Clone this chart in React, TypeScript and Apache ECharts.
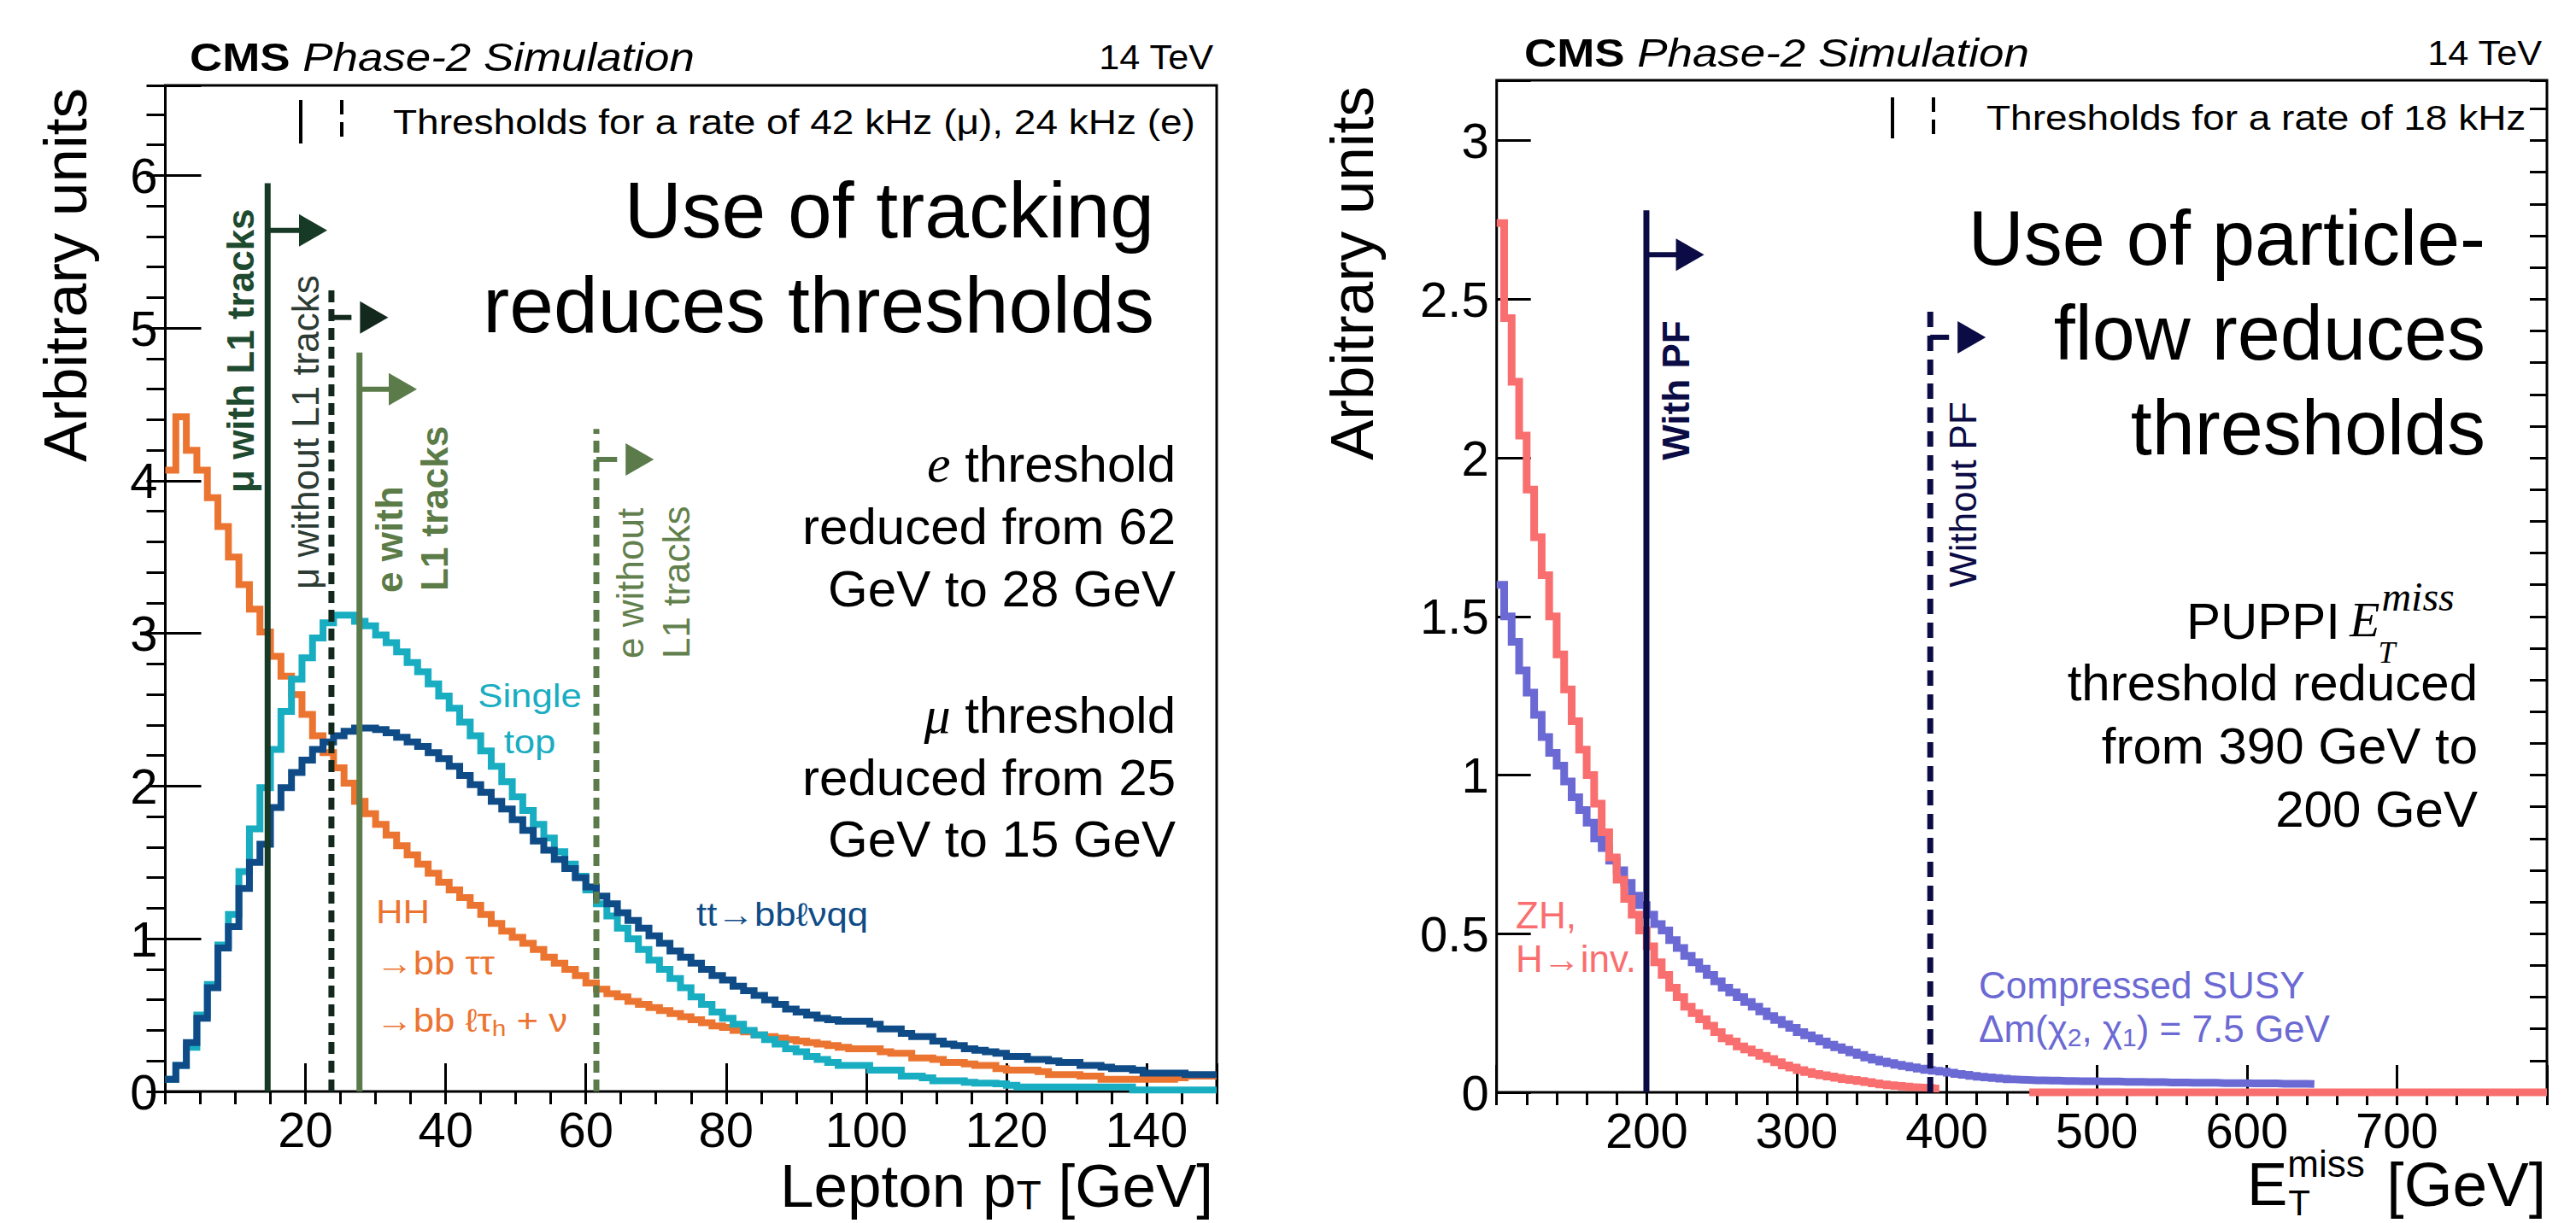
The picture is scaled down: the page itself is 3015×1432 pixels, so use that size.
import React, { useEffect, useRef } from 'react';
import * as echarts from 'echarts';

const W = 3015;
const H = 1432;
const SANS = '"Liberation Sans", Arial, Helvetica, sans-serif';
const SERIF = '"Liberation Serif", "DejaVu Serif", "Times New Roman", serif';

// ---------------- Left panel: lepton pT, 1.5 GeV bins from 0 ----------------
const leptonBinStart = 0;
const leptonBinWidth = 1.5;
const hhToBbTauTau = [
  4.07, 4.42, 4.2, 4.07, 3.89, 3.7, 3.5, 3.32, 3.16, 3.01,
  2.85, 2.72, 2.6, 2.47, 2.33, 2.22, 2.12, 2.02, 1.9, 1.82,
  1.75, 1.68, 1.61, 1.55, 1.49, 1.43, 1.37, 1.32, 1.27, 1.22,
  1.16, 1.1, 1.05, 1.01, 0.97, 0.93, 0.88, 0.84, 0.8, 0.76,
  0.71, 0.67, 0.64, 0.62, 0.59, 0.57, 0.55, 0.53, 0.51, 0.49,
  0.47, 0.45, 0.43, 0.42, 0.4, 0.39, 0.37, 0.36, 0.35, 0.34,
  0.33, 0.32, 0.31, 0.3, 0.29, 0.28, 0.28, 0.28, 0.26, 0.25,
  0.25, 0.22, 0.22, 0.21, 0.19, 0.19, 0.18, 0.17, 0.17, 0.15,
  0.14, 0.14, 0.14, 0.13, 0.11, 0.11, 0.11, 0.1, 0.1, 0.08,
  0.08, 0.08, 0.08, 0.08, 0.08, 0.08, 0.09, 0.1, 0.1, 0.1,
];
const singleTop = [
  0.08, 0.17, 0.29, 0.5, 0.7, 0.96, 1.16, 1.44, 1.72, 1.99,
  2.24, 2.49, 2.7, 2.84, 2.97, 3.07, 3.12, 3.12, 3.08, 3.05,
  2.99, 2.94, 2.88, 2.81, 2.75, 2.67, 2.59, 2.51, 2.42, 2.33,
  2.23, 2.13, 2.03, 1.93, 1.84, 1.75, 1.66, 1.57, 1.49, 1.41,
  1.32, 1.23, 1.15, 1.07, 1.0, 0.93, 0.86, 0.8, 0.74, 0.68,
  0.62, 0.57, 0.52, 0.48, 0.44, 0.4, 0.37, 0.34, 0.31, 0.28,
  0.26, 0.23, 0.21, 0.19, 0.17, 0.17, 0.17, 0.14, 0.14, 0.14,
  0.1, 0.1, 0.09, 0.07, 0.07, 0.07, 0.06, 0.055, 0.055, 0.05,
  0.04, 0.03, 0.03, 0.03, 0.03, 0.03, 0.03, 0.03, 0.03, 0.03,
  0.03, 0.03, 0.01, 0.01, 0.01, 0.01, 0.01, 0.01, 0.01, 0.01,
];
const ttToBbLnuQq = [
  0.08, 0.17, 0.32, 0.48, 0.68, 0.94, 1.08, 1.33, 1.5, 1.62,
  1.86, 1.99, 2.09, 2.17, 2.24, 2.29, 2.33, 2.36, 2.38, 2.38,
  2.37, 2.35, 2.32, 2.29, 2.26, 2.22, 2.18, 2.13, 2.07, 2.01,
  1.96, 1.9, 1.85, 1.78, 1.71, 1.64, 1.58, 1.52, 1.46, 1.4,
  1.34, 1.28, 1.23, 1.17, 1.12, 1.07, 1.02, 0.97, 0.92, 0.88,
  0.84, 0.8, 0.76, 0.73, 0.69, 0.66, 0.63, 0.6, 0.57, 0.54,
  0.52, 0.5, 0.48, 0.47, 0.46, 0.46, 0.46, 0.44, 0.41, 0.41,
  0.38, 0.36, 0.36, 0.33, 0.31, 0.3, 0.28, 0.27, 0.26, 0.25,
  0.23, 0.23, 0.21, 0.21, 0.2, 0.19, 0.19, 0.17, 0.17, 0.16,
  0.15, 0.15, 0.14, 0.12, 0.12, 0.12, 0.12, 0.11, 0.11, 0.11,
];
// thresholds: mu with L1 tracks, mu without, e with, e without
const leptonThresholdPt = [14.6, 23.7, 27.7, 61.5];
const leptonThresholdTop = [5.95, 5.29, 4.84, 4.34];
const leptonArrowLevel = [5.64, 5.07, 4.6, 4.14];
const leptonArrowTip = [23.1, 31.8, 35.9, 69.7];
const leptonThresholdDashed = [0, 1, 0, 1];
const leptonThresholdColors = ['#163A26', '#13291D', '#5B7B4A', '#5B7B4A'];

// ---------------- Right panel: PUPPI MET, 5 GeV bins from 100 ----------------
const metBinStart = 100;
const metBinWidth = 5;
const zhToInvisible = [
  2.74, 2.44, 2.24, 2.07, 1.9, 1.75, 1.63, 1.5, 1.38, 1.27,
  1.17, 1.08, 1.0, 0.91, 0.82, 0.74, 0.67, 0.61, 0.56, 0.51,
  0.46, 0.41, 0.37, 0.33, 0.3, 0.27, 0.25, 0.23, 0.21, 0.19,
  0.17, 0.16, 0.145, 0.135, 0.125, 0.115, 0.105, 0.095, 0.085, 0.078,
  0.07, 0.064, 0.058, 0.054, 0.05, 0.046, 0.042, 0.039, 0.036, 0.032,
  0.028, 0.025, 0.022, 0.02, 0.018, 0.016, 0.015, 0.014, 0.012,
];
const zhToInvisibleZeroTail = [455, 800];
const compressedSusy = [
  1.6, 1.5, 1.42, 1.33, 1.26, 1.19, 1.12, 1.07, 1.03, 0.98,
  0.93, 0.89, 0.85, 0.8, 0.77, 0.73, 0.7, 0.66, 0.62, 0.59,
  0.56, 0.53, 0.51, 0.48, 0.455, 0.43, 0.41, 0.39, 0.37, 0.35,
  0.33, 0.315, 0.3, 0.285, 0.27, 0.255, 0.24, 0.228, 0.215, 0.203,
  0.19, 0.18, 0.17, 0.16, 0.15, 0.142, 0.134, 0.126, 0.118, 0.11,
  0.103, 0.097, 0.092, 0.087, 0.083, 0.079, 0.075, 0.071, 0.068, 0.065,
  0.062, 0.058, 0.055, 0.052, 0.049, 0.047, 0.045, 0.043, 0.041, 0.04,
  0.039, 0.038, 0.038, 0.037, 0.037, 0.036, 0.036, 0.035, 0.035, 0.035,
  0.034, 0.034, 0.034, 0.033, 0.033, 0.033, 0.032, 0.032, 0.032, 0.031,
  0.031, 0.031, 0.03, 0.03, 0.03, 0.03, 0.029, 0.029, 0.029, 0.029,
  0.028, 0.028, 0.028, 0.028, 0.027, 0.027, 0.027, 0.027, 0.026,
];
// thresholds: with PF, without PF
const metThreshold = [199.8, 389];
const metThresholdTop = [2.78, 2.48];
const metArrowLevel = [2.64, 2.38];
const metArrowTip = [238.3, 426];
const metThresholdDashed = [0, 1];
const metThresholdColors = ['#0B0B45', '#0B0B45'];

const COL_HH = '#EC7431';
const COL_ST = '#19ADC2';
const COL_TT = '#0F4C87';
const COL_ZH = '#F96E6E';
const COL_SUSY = '#6B69D3';
const NAVY = '#0B0B45';

function histSteps(start: number, width: number, values: number[]) {
  const pts: number[][] = values.map((v, i) => [start + i * width, v]);
  pts.push([start + values.length * width, values[values.length - 1]]);
  return pts;
}

let measureCtx: CanvasRenderingContext2D | null = null;
function textWidth(text: string, size: number, family = SANS, weight = 'normal', style = 'normal') {
  if (!measureCtx) measureCtx = document.createElement('canvas').getContext('2d');
  measureCtx!.font = `${style} ${weight} ${size}px ${family}`;
  return measureCtx!.measureText(text).width;
}

type TxtOpt = {
  size?: number; color?: string; family?: string; weight?: string; fstyle?: string;
  align?: string; valign?: string; rotation?: number; scaleX?: number; rich?: any;
};
function txt(text: string, x: number, y: number, o: TxtOpt = {}) {
  const align = o.align || 'left';
  const valign = o.valign || 'middle';
  return {
    type: 'text',
    x,
    y,
    rotation: o.rotation || 0,
    scaleX: o.scaleX || 1,
    silent: true,
    z: 10,
    style: {
      text,
      fill: o.color || '#000',
      fontSize: o.size || 40,
      fontFamily: o.family || SANS,
      fontWeight: o.weight || 'normal',
      fontStyle: o.fstyle || 'normal',
      align,
      verticalAlign: valign,
      textAlign: align,
      textVerticalAlign: valign,
      rich: o.rich,
    },
  };
}
function vline(x: number, y1: number, y2: number, dash?: number[]) {
  return {
    type: 'line',
    silent: true,
    shape: { x1: x, y1, x2: x, y2 },
    style: { stroke: '#000', lineWidth: 4, lineDash: dash },
  };
}

function thresholdRenderer(colors: string[], dash: number[], lw: number) {
  return (params: any, api: any) => {
    const x = api.value(0);
    const top = api.value(1);
    const lvl = api.value(2);
    const tip = api.value(3);
    const dashed = api.value(4) === 1;
    const color = colors[api.value(5)];
    const b = api.coord([x, 0]);
    const t = api.coord([x, top]);
    const a = api.coord([x, lvl]);
    const p = api.coord([tip, lvl]);
    const headL = 33;
    const headH = 38;
    const shaftEnd = dashed ? p[0] - headL - 10 : p[0] - headL + 2;
    const lineStyle: any = { stroke: color, lineWidth: lw };
    if (dashed) lineStyle.lineDash = dash;
    return {
      type: 'group',
      children: [
        { type: 'line', shape: { x1: b[0], y1: b[1], x2: t[0], y2: t[1] }, style: lineStyle },
        { type: 'line', shape: { x1: a[0], y1: a[1], x2: shaftEnd, y2: a[1] }, style: { stroke: color, lineWidth: 6 } },
        {
          type: 'polygon',
          shape: { points: [[p[0] - headL, a[1] - headH / 2], [p[0], a[1]], [p[0] - headL, a[1] + headH / 2]] },
          style: { fill: color },
        },
      ],
    };
  };
}

function makeAxes() {
  const tickStyle = { color: '#000', width: 3 };
  const labelStyle = { fontSize: 58, fontFamily: SANS, color: '#000', lineHeight: 58 };
  const xAxis: any[] = [
    {
      gridIndex: 0, type: 'value', min: 0, max: 150, interval: 20,
      axisLine: { show: false }, splitLine: { show: false },
      axisTick: { show: true, inside: true, length: 33, lineStyle: tickStyle },
      axisLabel: { ...labelStyle, margin: 15, formatter: (v: number) => (v > 0 && v < 150 ? String(v) : '') },
    },
    {
      gridIndex: 0, type: 'value', min: 0, max: 150, interval: 5,
      axisLine: { show: false }, splitLine: { show: false }, axisLabel: { show: false },
      axisTick: { show: true, inside: true, length: 15, lineStyle: tickStyle },
    },
    {
      gridIndex: 1, type: 'value', min: 100, max: 800, interval: 100,
      axisLine: { show: false }, splitLine: { show: false },
      axisTick: { show: true, inside: true, length: 32, lineStyle: tickStyle },
      axisLabel: { ...labelStyle, margin: 15, formatter: (v: number) => (v > 100 && v < 800 ? String(v) : '') },
    },
    {
      gridIndex: 1, type: 'value', min: 100, max: 800, interval: 20,
      axisLine: { show: false }, splitLine: { show: false }, axisLabel: { show: false },
      axisTick: { show: true, inside: true, length: 15, lineStyle: tickStyle },
    },
  ];
  const yAxis: any[] = [
    {
      gridIndex: 0, type: 'value', min: 0, max: 6.59, interval: 1,
      axisLine: { show: false }, splitLine: { show: false },
      axisTick: { show: true, inside: true, length: 42, lineStyle: tickStyle },
      axisLabel: { ...labelStyle, margin: 9, formatter: (v: number) => (v > 6.5 ? '' : String(v)) },
    },
    {
      gridIndex: 0, type: 'value', min: 0, max: 6.59, interval: 0.2,
      axisLine: { show: false }, splitLine: { show: false }, axisLabel: { show: false },
      axisTick: { show: true, inside: true, length: 22, lineStyle: tickStyle },
    },
    {
      gridIndex: 1, type: 'value', min: 0, max: 3.19, interval: 0.5,
      axisLine: { show: false }, splitLine: { show: false },
      axisTick: { show: true, inside: true, length: 40, lineStyle: tickStyle },
      axisLabel: { ...labelStyle, margin: 9, formatter: (v: number) => (v > 3.1 ? '' : String(v)) },
    },
    {
      gridIndex: 1, type: 'value', min: 0, max: 3.19, interval: 0.1,
      axisLine: { show: false }, splitLine: { show: false }, axisLabel: { show: false },
      axisTick: { show: true, inside: true, length: 20, lineStyle: tickStyle },
    },
  ];
  return { xAxis, yAxis };
}

function histSeries(name: string, data: number[][], color: string, xi: number, yi: number, width: number) {
  return {
    name,
    type: 'line',
    xAxisIndex: xi,
    yAxisIndex: yi,
    data,
    step: 'end',
    symbol: 'none',
    silent: true,
    clip: false,
    lineStyle: { color, width, join: 'miter', cap: 'butt' },
  };
}

function buildGraphics() {
  const g: any[] = [];
  const titleRich = {
    b: { fontWeight: 'bold', fontSize: 46, fontFamily: SANS },
    i: { fontStyle: 'italic', fontSize: 46, fontFamily: SANS },
  };
  // ---- left panel texts ----
  g.push(txt('{b|CMS} {i|Phase-2 Simulation}', 222, 67, { size: 46, scaleX: 1.15, rich: titleRich }));
  g.push(txt('14 TeV', 1420, 67, { size: 40, align: 'right', scaleX: 1.08 }));
  g.push(vline(352, 117, 168));
  g.push(vline(400, 117, 168, [17, 9]));
  g.push(txt('Thresholds for a rate of 42 kHz (μ), 24 kHz (e)', 460, 143, { size: 40, scaleX: 1.15 }));
  g.push(txt('Use of tracking', 1351, 246, { size: 93, align: 'right' }));
  g.push(txt('reduces thresholds', 1351, 357, { size: 93, align: 'right' }));
  const mathRich = { i: { fontStyle: 'italic', fontFamily: SERIF, fontSize: 62 } };
  g.push(txt('{i|e} threshold', 1376, 543, { size: 60, align: 'right', rich: mathRich }));
  g.push(txt('reduced from 62', 1376, 616, { size: 60, align: 'right' }));
  g.push(txt('GeV to 28 GeV', 1376, 689, { size: 60, align: 'right' }));
  g.push(txt('{i|μ} threshold', 1376, 837, { size: 60, align: 'right', rich: mathRich }));
  g.push(txt('reduced from 25', 1376, 910, { size: 60, align: 'right' }));
  g.push(txt('GeV to 15 GeV', 1376, 982, { size: 60, align: 'right' }));
  // rotated threshold labels
  const R = Math.PI / 2;
  g.push(txt('μ with L1 tracks', 281, 577, { size: 44, weight: 'bold', color: '#1E4A30', rotation: R }));
  g.push(txt('μ without L1 tracks', 357, 690, { size: 44, color: '#2C3B33', rotation: R }));
  g.push(txt('e with', 455, 694, { size: 44, weight: 'bold', color: '#5B7B47', rotation: R }));
  g.push(txt('L1 tracks', 508, 692, { size: 44, weight: 'bold', color: '#5B7B47', rotation: R }));
  g.push(txt('e without', 737, 771, { size: 44, color: '#62804D', rotation: R }));
  g.push(txt('L1 tracks', 791, 771, { size: 44, color: '#62804D', rotation: R }));
  // series labels
  g.push(txt('Single', 620, 815, { size: 38, color: COL_ST, align: 'center', scaleX: 1.15 }));
  g.push(txt('top', 620, 869, { size: 38, color: COL_ST, align: 'center', scaleX: 1.15 }));
  g.push(txt('tt→bbℓνqq', 815, 1071, { size: 38, color: COL_TT, scaleX: 1.15 }));
  const subRich = {
    m: { fontSize: 38, fontFamily: SANS, lineHeight: 44 },
    s: { fontSize: 26, fontFamily: SANS, lineHeight: 26, verticalAlign: 'bottom' },
  };
  g.push(txt('HH', 440, 1068, { size: 38, color: COL_HH, scaleX: 1.15 }));
  g.push(txt('→bb ττ', 440, 1128, { size: 38, color: COL_HH, scaleX: 1.15 }));
  g.push(txt('{m|→bb ℓτ}{s|h}{m| + ν}', 440, 1195, { size: 38, color: COL_HH, scaleX: 1.15, rich: subRich }));
  // axis titles
  g.push(txt('Arbitrary units', 76, 322, { size: 71, align: 'center', rotation: R }));
  const xtRich = {
    m: { fontSize: 71, fontFamily: SANS, lineHeight: 70 },
    s: { fontSize: 48, fontFamily: SANS, lineHeight: 40, verticalAlign: 'bottom' },
  };
  g.push(txt('{m|Lepton p}{s|T}{m| [GeV]}', 1420, 1388, { size: 71, align: 'right', rich: xtRich }));

  // ---- right panel texts ----
  g.push(txt('{b|CMS} {i|Phase-2 Simulation}', 1784, 62, { size: 46, scaleX: 1.15, rich: titleRich }));
  g.push(txt('14 TeV', 2975, 62, { size: 40, align: 'right', scaleX: 1.08 }));
  g.push(vline(2215, 114, 162));
  g.push(vline(2263, 114, 162, [17, 9]));
  g.push(txt('Thresholds for a rate of 18 kHz', 2325, 138, { size: 40, scaleX: 1.15 }));
  g.push(txt('Use of particle-', 2909, 279, { size: 90, align: 'right' }));
  g.push(txt('flow reduces', 2909, 390, { size: 90, align: 'right' }));
  g.push(txt('thresholds', 2909, 501, { size: 90, align: 'right' }));
  // PUPPI E_T^miss block
  g.push(txt('PUPPI', 2739, 727, { size: 60, align: 'right' }));
  const wEi = textWidth('E', 58, SERIF, 'normal', 'italic');
  g.push(txt('E', 2750, 725, { size: 58, family: SERIF, fstyle: 'italic' }));
  g.push(txt('T', 2750 + wEi - 2, 764, { size: 36, family: SERIF, fstyle: 'italic' }));
  g.push(txt('miss', 2750 + wEi + 2, 698, { size: 48, family: SERIF, fstyle: 'italic' }));
  g.push(txt('threshold reduced', 2900, 799, { size: 60, align: 'right' }));
  g.push(txt('from 390 GeV to', 2900, 873, { size: 60, align: 'right' }));
  g.push(txt('200 GeV', 2900, 947, { size: 60, align: 'right' }));
  g.push(txt('With PF', 1961, 457, { size: 44, weight: 'bold', color: NAVY, align: 'center', rotation: R }));
  g.push(txt('Without PF', 2297, 579, { size: 44, color: NAVY, align: 'center', rotation: R }));
  g.push(txt('ZH,', 1774, 1071, { size: 44, color: COL_ZH }));
  g.push(txt('H→inv.', 1774, 1122, { size: 44, color: COL_ZH }));
  g.push(txt('Compressed SUSY', 2316, 1153, { size: 44, color: COL_SUSY }));
  const chiRich = {
    m: { fontSize: 44, fontFamily: SANS, lineHeight: 50 },
    s: { fontSize: 30, fontFamily: SANS, lineHeight: 30, verticalAlign: 'bottom' },
  };
  g.push(txt('{m|Δm(χ}{s|2}{m|, χ}{s|1}{m|) = 7.5 GeV}', 2316, 1204, { size: 44, color: COL_SUSY, rich: chiRich }));
  g.push(txt('Arbitrary units', 1582, 320, { size: 71, align: 'center', rotation: R }));
  const wE = textWidth('E', 71);
  const xE = 2630;
  g.push(txt('E', xE, 1386, { size: 71 }));
  g.push(txt('T', xE + wE + 1, 1408, { size: 42 }));
  g.push(txt('miss', xE + wE, 1362, { size: 44 }));
  g.push(txt('[GeV]', 2980, 1386, { size: 73, align: 'right' }));
  return g;
}

export default function App() {
  const ref = useRef<HTMLDivElement>(null);
  useEffect(() => {
    const chart = echarts.init(ref.current!, null, { renderer: 'svg', width: W, height: H });
    const { xAxis, yAxis } = makeAxes();
    const leptonThresholdData = leptonThresholdPt.map((x, i) => [
      x, leptonThresholdTop[i], leptonArrowLevel[i], leptonArrowTip[i], leptonThresholdDashed[i], i,
    ]);
    const metThresholdData = metThreshold.map((x, i) => [
      x, metThresholdTop[i], metArrowLevel[i], metArrowTip[i], metThresholdDashed[i], i,
    ]);
    const option: any = {
      animation: false,
      backgroundColor: '#ffffff',
      grid: [
        { left: 193.5, top: 100, width: 1230.5, height: 1178, show: true, borderColor: '#000', borderWidth: 3, backgroundColor: 'transparent', containLabel: false, outerBoundsMode: 'none' },
        { left: 1751.7, top: 94, width: 1229.3, height: 1185, show: true, borderColor: '#000', borderWidth: 3, backgroundColor: 'transparent', containLabel: false, outerBoundsMode: 'none' },
      ],
      xAxis,
      yAxis,
      series: [
        histSeries('HH→bbττ', histSteps(leptonBinStart, leptonBinWidth, hhToBbTauTau), COL_HH, 0, 0, 8),
        histSeries('Single top', histSteps(leptonBinStart, leptonBinWidth, singleTop), COL_ST, 0, 0, 8),
        histSeries('tt→bbℓνqq', histSteps(leptonBinStart, leptonBinWidth, ttToBbLnuQq), COL_TT, 0, 0, 8),
        {
          type: 'custom', xAxisIndex: 0, yAxisIndex: 0, silent: true, z: 4,
          data: leptonThresholdData,
          encode: { x: [0, 3], y: [1, 2] },
          renderItem: thresholdRenderer(leptonThresholdColors, [14, 8], 7),
        },
        histSeries('Compressed SUSY', histSteps(metBinStart, metBinWidth, compressedSusy), COL_SUSY, 2, 2, 9),
        histSeries('ZH, H→inv.', histSteps(metBinStart, metBinWidth, zhToInvisible), COL_ZH, 2, 2, 9),
        histSeries('ZH tail', zhToInvisibleZeroTail.map((x) => [x, 0]), COL_ZH, 2, 2, 9),
        {
          type: 'custom', xAxisIndex: 2, yAxisIndex: 2, silent: true, z: 4,
          data: metThresholdData,
          encode: { x: [0, 3], y: [1, 2] },
          renderItem: thresholdRenderer(metThresholdColors, [18, 10], 7),
        },
      ],
      graphic: { elements: buildGraphics() },
    };
    chart.setOption(option);
    return () => chart.dispose();
  }, []);
  return (
    <div
      ref={ref}
      style={{ position: 'fixed', left: 0, top: 0, width: W, height: H, background: '#fff' }}
    />
  );
}
